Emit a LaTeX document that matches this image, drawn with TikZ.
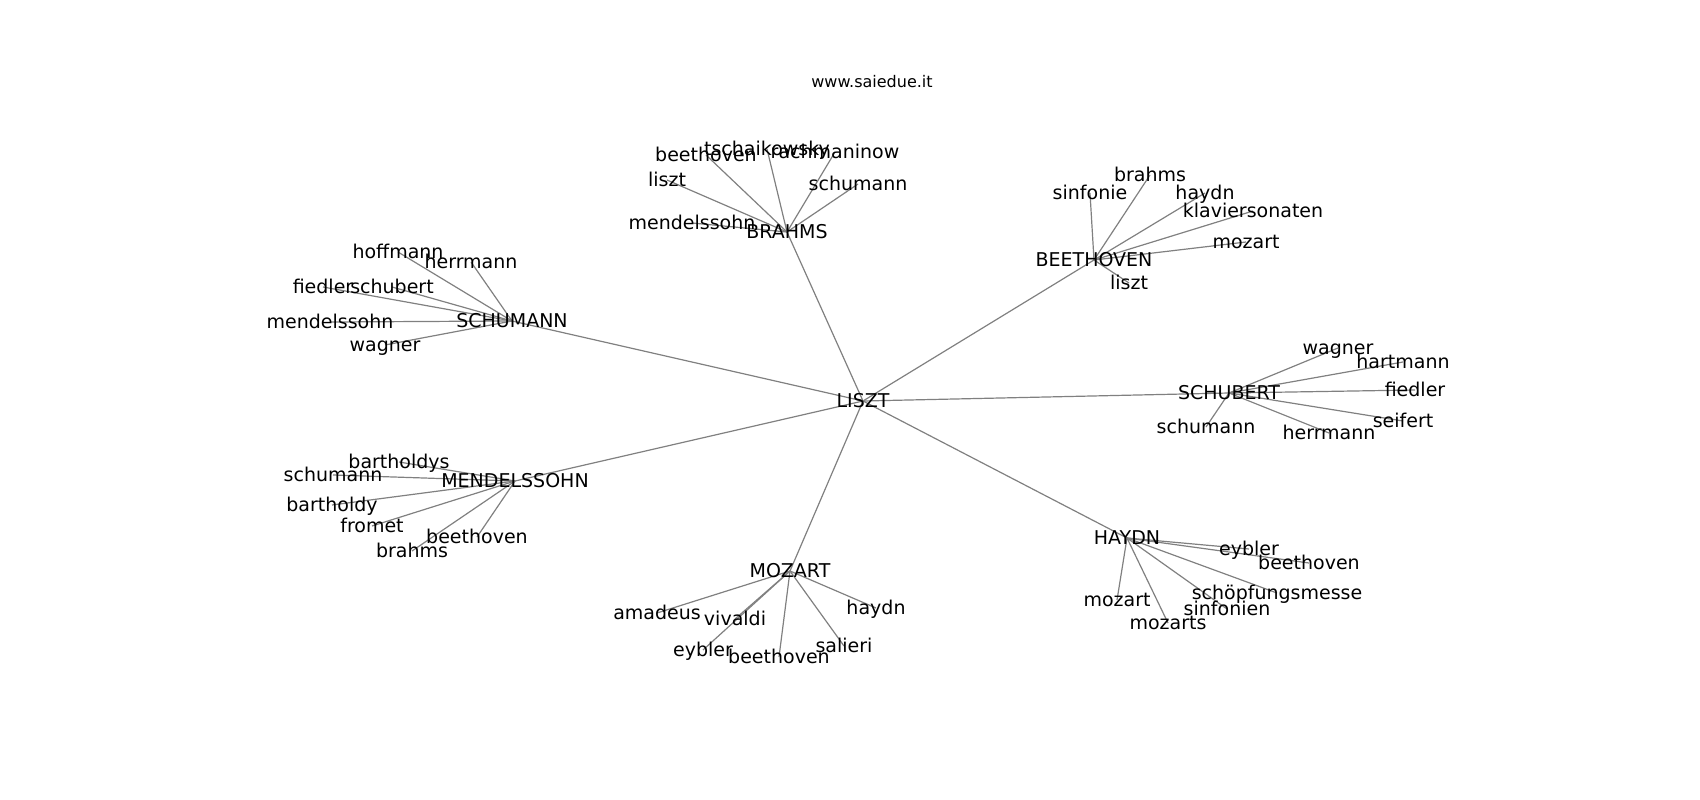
\documentclass[tikz,border=0pt]{standalone}
\usepackage{fontspec}
\setmainfont{DejaVu Sans}
\usetikzlibrary{backgrounds}
\begin{document}
\begin{tikzpicture}[x=1pt,y=-1pt,
  lbl/.style={font=\fontsize{19}{22}\selectfont, text=black, inner sep=0pt, text height=13.8pt, text depth=0pt, anchor=center},
  ttl/.style={font=\fontsize{16}{19}\selectfont, text=black, inner sep=0pt, text height=11.8pt, text depth=0pt, anchor=center},
  edge/.style={draw=black!50, line width=1.2pt}]
\useasboundingbox (0,0) rectangle (1700,800);
\node[ttl] (title) at (872,82) {www.saiedue.it};
% hubs
\node[lbl] (liszt) at (863,401) {LISZT};
\node[lbl] (brahms) at (787,232) {BRAHMS};
\node[lbl] (beet) at (1094,260) {BEETHOVEN};
\node[lbl] (schum) at (512,321) {SCHUMANN};
\node[lbl] (schub) at (1229,393) {SCHUBERT};
\node[lbl] (mend) at (515,481) {MENDELSSOHN};
\node[lbl] (moz) at (790,571) {MOZART};
\node[lbl] (hay) at (1127,538) {HAYDN};
% brahms leaves
\node[lbl] (br1) at (706,155) {beethoven};
\node[lbl] (br2) at (767,149) {tschaikowsky};
\node[lbl] (br3) at (835,152) {rachmaninow};
\node[lbl] (br4) at (667,180) {liszt};
\node[lbl] (br5) at (858,184) {schumann};
\node[lbl] (br6) at (692,223) {mendelssohn};
% beethoven leaves
\node[lbl] (be1) at (1090,193) {sinfonie};
\node[lbl] (be2) at (1150,175) {brahms};
\node[lbl] (be3) at (1205,193) {haydn};
\node[lbl] (be4) at (1253,211) {klaviersonaten};
\node[lbl] (be5) at (1246,242) {mozart};
\node[lbl] (be6) at (1129,283) {liszt};
% schumann leaves
\node[lbl] (sm1) at (398,252) {hoffmann};
\node[lbl] (sm2) at (471,262) {herrmann};
\node[lbl] (sm3) at (323,287) {fiedler};
\node[lbl] (sm4) at (392,287) {schubert};
\node[lbl] (sm5) at (330,322) {mendelssohn};
\node[lbl] (sm6) at (385,345) {wagner};
% schubert leaves
\node[lbl] (sb1) at (1338,348) {wagner};
\node[lbl] (sb2) at (1403,362) {hartmann};
\node[lbl] (sb3) at (1415,390) {fiedler};
\node[lbl] (sb4) at (1403,421) {seifert};
\node[lbl] (sb5) at (1329,433) {herrmann};
\node[lbl] (sb6) at (1206,427) {schumann};
% mendelssohn leaves
\node[lbl] (me1) at (399,462) {bartholdys};
\node[lbl] (me2) at (333,475) {schumann};
\node[lbl] (me3) at (332,505) {bartholdy};
\node[lbl] (me4) at (372,526) {fromet};
\node[lbl] (me5) at (477,537) {beethoven};
\node[lbl] (me6) at (412,551) {brahms};
% mozart leaves
\node[lbl] (mo1) at (657,613) {amadeus};
\node[lbl] (mo2) at (735,619) {vivaldi};
\node[lbl] (mo3) at (703,650) {eybler};
\node[lbl] (mo4) at (779,657) {beethoven};
\node[lbl] (mo5) at (844,646) {salieri};
\node[lbl] (mo6) at (876,608) {haydn};
% haydn leaves
\node[lbl] (ha1) at (1249,549) {eybler};
\node[lbl] (ha2) at (1309,563) {beethoven};
\node[lbl] (ha3) at (1277,593) {schöpfungsmesse};
\node[lbl] (ha4) at (1227,609) {sinfonien};
\node[lbl] (ha5) at (1117,600) {mozart};
\node[lbl] (ha6) at (1168,623) {mozarts};
\begin{scope}[on background layer]
  \foreach \h in {brahms,beet,schum,schub,mend,moz,hay}
    \draw[edge] (liszt.center) -- (\h.center);
  \foreach \l in {br1,br2,br3,br4,br5,br6}
    \draw[edge] (brahms.center) -- (\l.center);
  \foreach \l in {be1,be2,be3,be4,be5,be6}
    \draw[edge] (beet.center) -- (\l.center);
  \foreach \l in {sm1,sm2,sm3,sm4,sm5,sm6}
    \draw[edge] (schum.center) -- (\l.center);
  \foreach \l in {sb1,sb2,sb3,sb4,sb5,sb6}
    \draw[edge] (schub.center) -- (\l.center);
  \foreach \l in {me1,me2,me3,me4,me5,me6}
    \draw[edge] (mend.center) -- (\l.center);
  \foreach \l in {mo1,mo2,mo3,mo4,mo5,mo6}
    \draw[edge] (moz.center) -- (\l.center);
  \foreach \l in {ha1,ha2,ha3,ha4,ha5,ha6}
    \draw[edge] (hay.center) -- (\l.center);
\end{scope}
\end{tikzpicture}
\end{document}
